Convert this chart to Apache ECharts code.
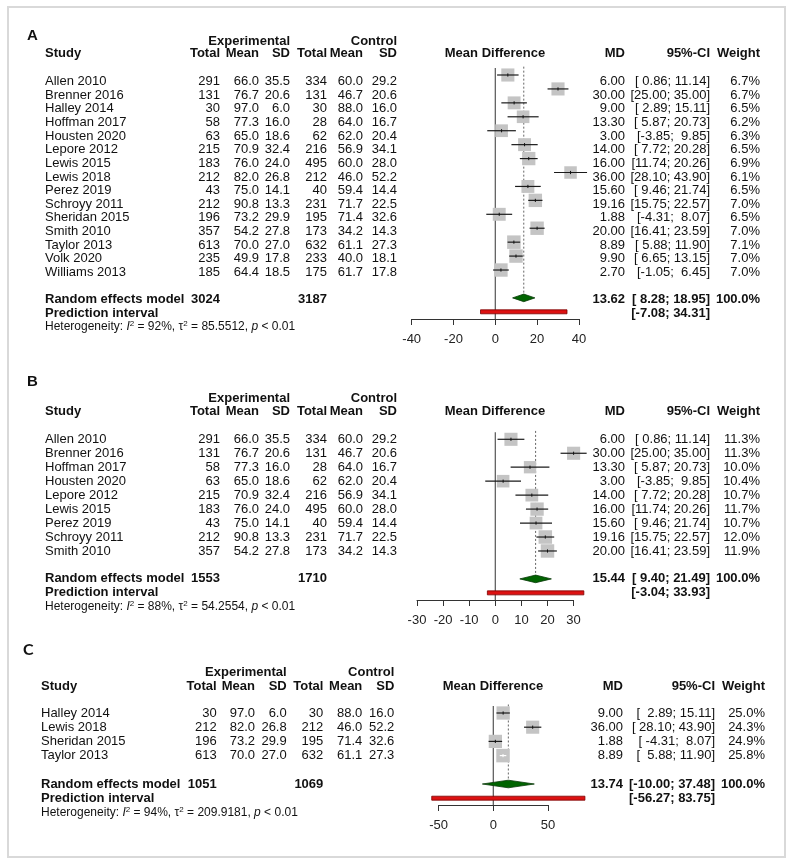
<!DOCTYPE html>
<html><head><meta charset="utf-8">
<script src="https://cdn.jsdelivr.net/npm/echarts@6/dist/echarts.min.js"></script>
<style>html,body{margin:0;padding:0;background:#fff}#c{width:793px;height:863px}</style>
</head><body><div id="c"></div><script>
// ---------------- DATA ----------------
// Panel A
const studiesA = ["Allen 2010","Brenner 2016","Halley 2014","Hoffman 2017","Housten 2020","Lepore 2012","Lewis 2015","Lewis 2018","Perez 2019","Schroyy 2011","Sheridan 2015","Smith 2010","Taylor 2013","Volk 2020","Williams 2013"];
const expTotalA = [291,131,30,58,63,215,183,212,43,212,196,357,613,235,185];
const expMeanA  = [66.0,76.7,97.0,77.3,65.0,70.9,76.0,82.0,75.0,90.8,73.2,54.2,70.0,49.9,64.4];
const expSDA    = [35.5,20.6,6.0,16.0,18.6,32.4,24.0,26.8,14.1,13.3,29.9,27.8,27.0,17.8,18.5];
const ctlTotalA = [334,131,30,28,62,216,495,212,40,231,195,173,632,233,175];
const ctlMeanA  = [60.0,46.7,88.0,64.0,62.0,56.9,60.0,46.0,59.4,71.7,71.4,34.2,61.1,40.0,61.7];
const ctlSDA    = [29.2,20.6,16.0,16.7,20.4,34.1,28.0,52.2,14.4,22.5,32.6,14.3,27.3,18.1,17.8];
const mdA       = [6.00,30.00,9.00,13.30,3.00,14.00,16.00,36.00,15.60,19.16,1.88,20.00,8.89,9.90,2.70];
const lowerA    = [0.86,25.00,2.89,5.87,-3.85,7.72,11.74,28.10,9.46,15.75,-4.31,16.41,5.88,6.65,-1.05];
const upperA    = [11.14,35.00,15.11,20.73,9.85,20.28,20.26,43.90,21.74,22.57,8.07,23.59,11.90,13.15,6.45];
const weightA   = [6.7,6.7,6.5,6.2,6.3,6.5,6.9,6.1,6.5,7.0,6.5,7.0,7.1,7.0,7.0];
const totalsA   = [3024, 3187];
const pooledA   = [13.62, 8.28, 18.95];
const predA     = [-7.08, 34.31];
const hetA      = ["92%", "85.5512", "< 0.01"];
const ticksA    = [-40, 40, 20];

// Panel B
const studiesB = ["Allen 2010","Brenner 2016","Hoffman 2017","Housten 2020","Lepore 2012","Lewis 2015","Perez 2019","Schroyy 2011","Smith 2010"];
const expTotalB = [291,131,58,63,215,183,43,212,357];
const expMeanB  = [66.0,76.7,77.3,65.0,70.9,76.0,75.0,90.8,54.2];
const expSDB    = [35.5,20.6,16.0,18.6,32.4,24.0,14.1,13.3,27.8];
const ctlTotalB = [334,131,28,62,216,495,40,231,173];
const ctlMeanB  = [60.0,46.7,64.0,62.0,56.9,60.0,59.4,71.7,34.2];
const ctlSDB    = [29.2,20.6,16.7,20.4,34.1,28.0,14.4,22.5,14.3];
const mdB       = [6.00,30.00,13.30,3.00,14.00,16.00,15.60,19.16,20.00];
const lowerB    = [0.86,25.00,5.87,-3.85,7.72,11.74,9.46,15.75,16.41];
const upperB    = [11.14,35.00,20.73,9.85,20.28,20.26,21.74,22.57,23.59];
const weightB   = [11.3,11.3,10.0,10.4,10.7,11.7,10.7,12.0,11.9];
const totalsB   = [1553, 1710];
const pooledB   = [15.44, 9.40, 21.49];
const predB     = [-3.04, 33.93];
const hetB      = ["88%", "54.2554", "< 0.01"];
const ticksB    = [-30, 30, 10];

// Panel C
const studiesC = ["Halley 2014","Lewis 2018","Sheridan 2015","Taylor 2013"];
const expTotalC = [30,212,196,613];
const expMeanC  = [97.0,82.0,73.2,70.0];
const expSDC    = [6.0,26.8,29.9,27.0];
const ctlTotalC = [30,212,195,632];
const ctlMeanC  = [88.0,46.0,71.4,61.1];
const ctlSDC    = [16.0,52.2,32.6,27.3];
const mdC       = [9.00,36.00,1.88,8.89];
const lowerC    = [2.89,28.10,-4.31,5.88];
const upperC    = [15.11,43.90,8.07,11.90];
const weightC   = [25.0,24.3,24.9,25.8];
const totalsC   = [1051, 1069];
const pooledC   = [13.74, -10.00, 37.48];
const predC     = [-56.27, 83.75];
const hetC      = ["94%", "209.9181", "< 0.01"];
const ticksC    = [-50, 50, 50];

// ---------------- LAYOUT ----------------
const FONT = '"Liberation Sans", Arial, Helvetica, sans-serif';
const layouts = [
  {letter:'A', letterFont:FONT, letterSize:15, letterX:27, letterY:28, expHeadY:33.5, studyHeadY:46.5, y0:75, rowPx:13.93, axisY:319, xZero:495.3, ppu:2.09,
   cols:{study:45,eT:220,eM:259,eS:290,cT:327,cM:363,cS:397,mdHead:495,md:625,ci:710,w:760}},
  {letter:'B', letterFont:FONT, letterSize:15, letterX:27, letterY:381.7, expHeadY:398.3, studyHeadY:411.7, y0:439.3, rowPx:13.96, axisY:600, xZero:495.3, ppu:2.61,
   cols:{study:45,eT:220,eM:259,eS:290,cT:327,cM:363,cS:397,mdHead:495,md:625,ci:710,w:760}},
  {letter:'C', letterFont:'Lato, "Open Sans", sans-serif', letterSize:16, letterX:23, letterY:650, expHeadY:672.7, studyHeadY:686, y0:713, rowPx:14.2, axisY:805, xZero:493.3, ppu:1.094,
   cols:{study:41,eT:216.7,eM:255,eS:286.7,cT:323.3,cM:362.3,cS:394.3,mdHead:493,md:623,ci:715,w:765}}
];
const panels = [
  {studies:studiesA,eT:expTotalA,eM:expMeanA,eS:expSDA,cT:ctlTotalA,cM:ctlMeanA,cS:ctlSDA,md:mdA,lo:lowerA,hi:upperA,w:weightA,totals:totalsA,pooled:pooledA,pred:predA,het:hetA,ticks:ticksA},
  {studies:studiesB,eT:expTotalB,eM:expMeanB,eS:expSDB,cT:ctlTotalB,cM:ctlMeanB,cS:ctlSDB,md:mdB,lo:lowerB,hi:upperB,w:weightB,totals:totalsB,pooled:pooledB,pred:predB,het:hetB,ticks:ticksB},
  {studies:studiesC,eT:expTotalC,eM:expMeanC,eS:expSDC,cT:ctlTotalC,cM:ctlMeanC,cS:ctlSDC,md:mdC,lo:lowerC,hi:upperC,w:weightC,totals:totalsC,pooled:pooledC,pred:predC,het:hetC,ticks:ticksC}
];

const BOX_MAX = 13.5;
const grids = [], xAxes = [], yAxes = [], series = [];

function ciText(lo, hi, wl, wh){
  return '[' + lo.toFixed(2).padStart(wl) + '; ' + hi.toFixed(2).padStart(wh) + ']';
}

panels.forEach((P, k) => {
  const L = layouts[k];
  const n = P.studies.length;
  const C = L.cols;
  const row = py => (py - L.y0) / L.rowPx;
  // ---------- text grid ----------
  const tMin = -6, tMax = n + 6;
  const gT = grids.length;
  grids.push({left:0, width:793, top:L.y0 + tMin*L.rowPx, height:(tMax - tMin)*L.rowPx});
  xAxes.push({gridIndex:gT, type:'value', min:0, max:793, show:false});
  yAxes.push({gridIndex:gT, type:'value', inverse:true, min:tMin, max:tMax, show:false});

  const allLo = P.lo.concat([P.pooled[1], P.pred[0]]).map(v => v.toFixed(2).length);
  const allHi = P.hi.concat([P.pooled[2], P.pred[1]]).map(v => v.toFixed(2).length);
  const wl = Math.max(...allLo), wh = Math.max(...allHi);

  const items = [];
  const T = (x, r, text, align, bold, extra) => items.push(Object.assign({x, r, text, align, bold}, extra || {}));
  T(L.letterX, row(L.letterY), L.letter, 'left', true, {font:L.letterFont, size:L.letterSize});
  const rE = row(L.expHeadY), rS = row(L.studyHeadY);
  T(C.eS, rE, 'Experimental', 'right', true);
  T(C.cS, rE, 'Control', 'right', true);
  T(C.study, rS, 'Study', 'left', true);
  T(C.eT, rS, 'Total', 'right', true); T(C.eM, rS, 'Mean', 'right', true); T(C.eS, rS, 'SD', 'right', true);
  T(C.cT, rS, 'Total', 'right', true); T(C.cM, rS, 'Mean', 'right', true); T(C.cS, rS, 'SD', 'right', true);
  T(C.mdHead, rS, 'Mean Difference', 'center', true);
  T(C.md, rS, 'MD', 'right', true); T(C.ci, rS, '95%-CI', 'right', true); T(C.w, rS, 'Weight', 'right', true);
  for (let i = 0; i < n; i++) {
    T(C.study, i, P.studies[i], 'left', false);
    T(C.eT, i, String(P.eT[i]), 'right', false);
    T(C.eM, i, P.eM[i].toFixed(1), 'right', false);
    T(C.eS, i, P.eS[i].toFixed(1), 'right', false);
    T(C.cT, i, String(P.cT[i]), 'right', false);
    T(C.cM, i, P.cM[i].toFixed(1), 'right', false);
    T(C.cS, i, P.cS[i].toFixed(1), 'right', false);
    T(C.md, i, P.md[i].toFixed(2), 'right', false);
    T(C.ci, i, ciText(P.lo[i], P.hi[i], wl, wh), 'right', false);
    T(C.w, i, P.w[i].toFixed(1) + '%', 'right', false);
  }
  const rR = n + 1, rP = n + 2, rH = n + 3;
  T(C.study, rR, 'Random effects model', 'left', true);
  T(C.eT, rR, String(P.totals[0]), 'right', true);
  T(C.cT, rR, String(P.totals[1]), 'right', true);
  T(C.md, rR, P.pooled[0].toFixed(2), 'right', true);
  T(C.ci, rR, ciText(P.pooled[1], P.pooled[2], wl, wh), 'right', true);
  T(C.w, rR, '100.0%', 'right', true);
  T(C.study, rP, 'Prediction interval', 'left', true);
  T(C.ci, rP, ciText(P.pred[0], P.pred[1], wl, wh), 'right', true);
  T(C.study, rH, '{n|Heterogeneity: }{it|I}{sup|2}{n| = ' + P.het[0] + ', τ}{sup|2}{n| = ' + P.het[1] + ', }{it|p}{n| ' + P.het[2] + '}', 'left', false, {rich:true});

  series.push({
    type:'custom', coordinateSystem:'cartesian2d', xAxisIndex:gT, yAxisIndex:gT, clip:false, silent:true,
    data: items.map((t, i) => [t.x, t.r, i]),
    renderItem: (params, api) => {
      const t = items[api.value(2)];
      const p = api.coord([t.x, t.r]);
      const style = {
        text: t.text, align: t.align, verticalAlign: 'middle', fill: '#111',
        fontFamily: t.font || FONT, fontSize: t.size || 13, fontWeight: t.bold ? 'bold' : 'normal'
      };
      if (t.rich) {
        style.rich = {
          n: {fontSize:12, fontFamily:FONT, lineHeight:14, fill:'#111'},
          it: {fontSize:12, fontFamily:FONT, fontStyle:'italic', lineHeight:14, fill:'#111'},
          sup: {fontSize:8, fontFamily:FONT, lineHeight:8, verticalAlign:'top', fill:'#111'}
        };
      }
      return {type:'text', x:p[0], y:p[1], style};
    }
  });

  // ---------- forest grid ----------
  const [aMin, aMax, aInt] = P.ticks;
  const fMin = -1, fMax = (L.axisY - L.y0) / L.rowPx;
  const gF = grids.length;
  grids.push({left:L.xZero + aMin*L.ppu, width:(aMax - aMin)*L.ppu, top:L.y0 + fMin*L.rowPx, height:L.axisY - (L.y0 + fMin*L.rowPx)});
  xAxes.push({gridIndex:gF, type:'value', min:aMin, max:aMax, interval:aInt, position:'bottom',
    axisLine:{onZero:false, lineStyle:{color:'#333', width:1}},
    axisTick:{show:true, inside:false, length:6, lineStyle:{color:'#333', width:1}},
    axisLabel:{margin:14, fontSize:13, fontFamily:FONT, color:'#222'},
    splitLine:{show:false}});
  yAxes.push({gridIndex:gF, type:'value', inverse:true, min:fMin, max:fMax, show:false});

  // reference lines: solid zero line & dotted pooled-effect line
  series.push({
    type:'custom', coordinateSystem:'cartesian2d', xAxisIndex:gF, yAxisIndex:gF, clip:false, silent:true, z:1,
    data: [[0, -0.5, fMax, 0], [P.pooled[0], -0.6, rR, 1]],
    renderItem: (params, api) => {
      const a = api.coord([api.value(0), api.value(1)]);
      const b = api.coord([api.value(0), api.value(2)]);
      const dotted = api.value(3) === 1;
      return {type:'line', shape:{x1:a[0], y1:a[1], x2:b[0], y2:dotted ? b[1] - 3.5 : b[1]},
        style: dotted ? {stroke:'#666', lineWidth:1, lineDash:[2,2]} : {stroke:'#555', lineWidth:1.2}};
    }
  });
  // studies
  const wMax = Math.max(...P.w);
  series.push({
    type:'custom', coordinateSystem:'cartesian2d', xAxisIndex:gF, yAxisIndex:gF, clip:false, silent:true, z:3,
    data: P.md.map((m, i) => [m, i, P.lo[i], P.hi[i], P.w[i]]),
    renderItem: (params, api) => {
      const r = api.value(1);
      const c = api.coord([api.value(0), r]);
      const l = api.coord([api.value(2), r]);
      const u = api.coord([api.value(3), r]);
      const s = BOX_MAX * Math.sqrt(api.value(4) / wMax);
      const inside = (u[0] - l[0]) < s * 0.8;
      return {type:'group', children:[
        {type:'rect', shape:{x:c[0]-s/2, y:c[1]-s/2, width:s, height:s}, style:{fill:'#c4c4c4'}},
        {type:'line', shape:{x1:l[0], y1:c[1], x2:u[0], y2:c[1]}, style:{stroke: inside ? '#fff' : '#1a1a1a', lineWidth:1.2}},
        {type:'line', shape:{x1:c[0], y1:c[1]-1.6, x2:c[0], y2:c[1]+1.6}, style:{stroke: inside ? '#fff' : '#111', lineWidth:1}}
      ]};
    }
  });
  // pooled diamond & prediction interval
  series.push({
    type:'custom', coordinateSystem:'cartesian2d', xAxisIndex:gF, yAxisIndex:gF, clip:false, silent:true, z:4,
    data: [[P.pooled[0], rR, P.pooled[1], P.pooled[2], 0], [P.pred[0], rP, P.pred[0], P.pred[1], 1]],
    renderItem: (params, api) => {
      const r = api.value(1);
      const c = api.coord([api.value(0), r]);
      const l = api.coord([api.value(2), r]);
      const u = api.coord([api.value(3), r]);
      if (api.value(4) === 0) {
        return {type:'polygon', shape:{points:[[l[0], c[1]], [c[0], c[1]-3.8], [u[0], c[1]], [c[0], c[1]+3.8]]},
          style:{fill:'#006400', stroke:'#0a3a0a', lineWidth:0.8}};
      }
      return {type:'rect', shape:{x:l[0], y:c[1]-2, width:u[0]-l[0], height:4},
        style:{fill:'#dd1111', stroke:'#7a0000', lineWidth:0.8}};
    }
  });
});

const chart = echarts.init(document.getElementById('c'), null, {renderer:'canvas'});
chart.setOption({
  animation:false,
  backgroundColor:'#ffffff',
  grid: grids, xAxis: xAxes, yAxis: yAxes, series,
  graphic: [{type:'rect', silent:true, shape:{x:8, y:7, width:777, height:850}, style:{fill:'none', stroke:'#d9d9d9', lineWidth:2}}]
});
</script></body></html>
